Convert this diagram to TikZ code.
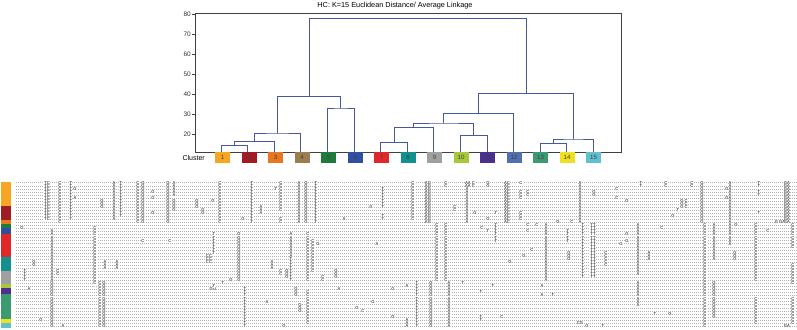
\documentclass[tikz,border=0pt]{standalone}
\usepackage{fontspec}
\setmainfont{Liberation Sans}
\definecolor{dendblue}{RGB}{70,88,158}
\definecolor{c1}{RGB}{246,166,35}
\definecolor{c2}{RGB}{160,28,34}
\definecolor{c3}{RGB}{232,119,34}
\definecolor{c4}{RGB}{156,126,78}
\definecolor{c5}{RGB}{30,123,60}
\definecolor{c6}{RGB}{47,79,160}
\definecolor{c7}{RGB}{224,40,42}
\definecolor{c8}{RGB}{19,144,144}
\definecolor{c9}{RGB}{160,160,160}
\definecolor{c10}{RGB}{168,200,60}
\definecolor{c11}{RGB}{75,48,144}
\definecolor{c12}{RGB}{80,112,176}
\definecolor{c13}{RGB}{58,154,112}
\definecolor{c14}{RGB}{240,224,32}
\definecolor{c15}{RGB}{96,192,208}
\newcommand\alnc[4]{\foreach \r in {#2,...,#3}{\node[lt] (t#1r\r) at (#1,{182.7+3.05*\r}) {#4};}}
\begin{document}
\begin{tikzpicture}[x=1pt,y=-1pt,
  dend/.style={draw=dendblue, line width=0.8pt},
  axisline/.style={draw=black!75, line width=0.8pt},
  clbox/.style={minimum width=15pt, minimum height=11pt, inner sep=0pt, font=\fontsize{6.2}{6.2}\selectfont, text=black!75},
  ticklbl/.style={font=\fontsize{6.5}{6.5}\selectfont, text=black!80, inner sep=1pt, anchor=east},
  lt/.style={inner sep=0.2pt, fill=white, font=\fontsize{4.2}{4.2}\selectfont, text=black},
  rowdots/.style={draw=gray!60, line width=0.5pt, dash pattern=on 0.5pt off 1.5pt}]
\useasboundingbox (0,0) rectangle (797,329);

% title
\node[font=\fontsize{7.3}{7.3}\selectfont] (title) at (395,5.5) {HC: K=15 Euclidean Distance/ Average Linkage};

% axis frame and ticks
\draw[axisline] (195,13) rectangle (621,152);
\foreach \v in {20,30,...,80}{
  \draw[axisline] (192,{174-2*\v}) -- (195,{174-2*\v});
  \node[ticklbl] (tk\v) at (192,{174-2*\v}) {\v};
}

% leaves and internal nodes
\foreach \i in {1,...,15}{\coordinate (L\i) at ({221+(\i-1)*26.6},152);}
\coordinate (A) at (234.3,145.7);
\coordinate (B) at (254.25,141.7);
\coordinate (C) at (277.5,133);
\coordinate (D) at (340.7,108);
\coordinate (E) at (309.1,96.3);
\coordinate (F) at (393.9,142.3);
\coordinate (G) at (413.85,127.3);
\coordinate (H) at (473.7,135.7);
\coordinate (I) at (443.8,123);
\coordinate (J) at (478.7,113.3);
\coordinate (K) at (553.5,143.3);
\coordinate (Lm) at (573.45,139);
\coordinate (M) at (526.1,93.3);
\coordinate (T) at (417.6,18.3);

\draw[dend] (L1) |- (A) -| (L2);
\draw[dend] (A) |- (B) -| (L3);
\draw[dend] (B) |- (C) -| (L4);
\draw[dend] (L5) |- (D) -| (L6);
\draw[dend] (C) |- (E) -| (D);
\draw[dend] (L7) |- (F) -| (L8);
\draw[dend] (F) |- (G) -| (L9);
\draw[dend] (L10) |- (H) -| (L11);
\draw[dend] (G) |- (I) -| (H);
\draw[dend] (I) |- (J) -| (L12);
\draw[dend] (L13) |- (K) -| (L14);
\draw[dend] (K) |- (Lm) -| (L15);
\draw[dend] (J) |- (M) -| (Lm);
\draw[dend] (E) |- (T) -| (M);

% cluster boxes
\node[anchor=east, font=\fontsize{7}{7}\selectfont, inner sep=0pt] (clab) at (205,157.5) {Cluster};
\foreach \i in {1,...,15}{
  \node[clbox, fill=c\i] (box\i) at ({222.5+(\i-1)*26.5},157.5) {\i};
}

% colour bar
\fill[c1] (1,181.5) rectangle (11,206);
\fill[c2] (1,206) rectangle (11,219.5);
\fill[c3] (1,219.5) rectangle (11,224);
\fill[c5] (1,224) rectangle (11,228);
\fill[c6] (1,228) rectangle (11,234);
\fill[c7] (1,234) rectangle (11,256.5);
\fill[c8] (1,256.5) rectangle (11,270.5);
\fill[c9] (1,270.5) rectangle (11,283.5);
\fill[c10] (1,283.5) rectangle (11,287.5);
\fill[c11] (1,287.5) rectangle (11,293.5);
\fill[c13] (1,293.5) rectangle (11,318.5);
\fill[c14] (1,318.5) rectangle (11,322.5);
\fill[c15] (1,322.5) rectangle (11,328);

% alignment rows
\foreach \r in {0,...,47}{\draw[rowdots] (16,{182.7+3.05*\r}) -- (797,{182.7+3.05*\r});}

% group A
\alnc{47}{0}{12}{TC}
\alnc{60}{0}{13}{C}
\alnc{71}{0}{12}{T}
\alnc{75}{2}{2}{G}
\alnc{75}{5}{5}{A}
\alnc{102}{6}{8}{G}
\alnc{114}{0}{12}{A}
\alnc{121}{0}{11}{T}
\alnc{138}{0}{13}{C}
\alnc{143}{0}{13}{G}
\alnc{153}{3}{3}{G}
\alnc{153}{5}{5}{G}
\alnc{153}{10}{10}{G}
\alnc{168}{0}{13}{G}
\alnc{174}{0}{4}{A}
\alnc{174}{6}{9}{G}
\alnc{197}{6}{8}{G}
\alnc{220}{0}{13}{C}
\alnc{213}{6}{6}{G}
\alnc{203}{9}{10}{G}
\alnc{243}{12}{12}{G}
\alnc{252}{0}{13}{T}
\alnc{261}{8}{10}{A}
\alnc{276}{2}{2}{T}
\alnc{281}{0}{9}{C}
\alnc{281}{12}{13}{C}
\alnc{299}{0}{13}{A}
\alnc{306}{0}{13}{G}
\alnc{316}{0}{13}{T}
\alnc{344}{12}{12}{A}
\alnc{371}{8}{8}{G}
\alnc{383}{2}{8}{T}
\alnc{383}{11}{12}{T}
\alnc{413}{0}{12}{C}
\alnc{428}{0}{13}{AG}
\alnc{446}{0}{1}{C}
\alnc{455}{8}{9}{C}
\alnc{467}{2}{13}{A}
\alnc{470}{0}{1}{AA C}
\alnc{475}{10}{10}{G}
\alnc{488}{0}{1}{G}
\alnc{488}{12}{12}{G}
\alnc{496}{10}{10}{T}
\alnc{507}{0}{13}{AC}
\alnc{521}{0}{0}{C}
\alnc{521}{3}{5}{C}
\alnc{521}{10}{12}{C}
\alnc{528}{3}{4}{C}
\alnc{580}{0}{13}{A}
\alnc{594}{3}{4}{G}
\alnc{617}{2}{2}{C}
\alnc{617}{5}{5}{C}
\alnc{627}{6}{6}{G}
\alnc{641}{0}{1}{T}
\alnc{666}{0}{1}{C}
\alnc{673}{11}{11}{G}
\alnc{678}{9}{9}{T}
\alnc{684}{6}{8}{G C}
\alnc{692}{0}{1}{C}
\alnc{702}{0}{13}{G}
\alnc{727}{2}{2}{G}
\alnc{727}{5}{5}{G}
\alnc{730}{0}{13}{A}
\alnc{759}{0}{1}{T}
\alnc{759}{3}{4}{T}
\alnc{759}{10}{10}{T}
\alnc{787}{0}{13}{GA}

% group B
\alnc{22}{15}{15}{G}
\alnc{25}{29}{32}{T}
\alnc{34}{26}{27}{G}
\alnc{52}{16}{32}{A}
\alnc{58}{29}{30}{C}
\alnc{95}{15}{33}{C}
\alnc{105}{26}{28}{A}
\alnc{117}{26}{28}{A}
\alnc{143}{19}{19}{C}
\alnc{170}{19}{19}{C}
\alnc{209}{24}{26}{CC}
\alnc{214}{17}{23}{T}
\alnc{239}{17}{32}{G}
\alnc{272}{26}{28}{A}
\alnc{281}{29}{30}{C}
\alnc{287}{29}{31}{G}
\alnc{291}{17}{24}{A}
\alnc{291}{25}{32}{T}
\alnc{308}{17}{32}{C}
\alnc{313}{19}{29}{C}
\alnc{318}{20}{20}{G}
\alnc{323}{31}{32}{C}
\alnc{336}{29}{31}{G}
\alnc{377}{20}{20}{A}
\alnc{437}{14}{32}{C}
\alnc{446}{14}{32}{C}
\alnc{482}{15}{15}{C}
\alnc{488}{16}{16}{T}
\alnc{496}{14}{19}{T}
\alnc{510}{26}{26}{G}
\alnc{524}{24}{24}{G}
\alnc{528}{14}{14}{C}
\alnc{528}{16}{16}{C}
\alnc{532}{22}{22}{C}
\alnc{537}{14}{14}{C}
\alnc{546}{14}{32}{A}
\alnc{558}{13}{13}{G}
\alnc{568}{16}{19}{T}
\alnc{569}{23}{25}{G}
\alnc{572}{13}{13}{C}
\alnc{583}{14}{31}{T}
\alnc{593}{14}{31}{TT}
\alnc{606}{23}{27}{C}
\alnc{621}{20}{20}{G}
\alnc{627}{17}{17}{G}
\alnc{627}{19}{19}{G}
\alnc{638}{14}{30}{A}
\alnc{649}{23}{25}{A}
\alnc{662}{15}{15}{C}
\alnc{705}{14}{32}{C}
\alnc{714}{14}{25}{A}
\alnc{730}{14}{20}{A}
\alnc{735}{23}{25}{G}
\alnc{736}{14}{14}{G}
\alnc{756}{14}{32}{C}
\alnc{768}{16}{16}{C}
\alnc{780}{13}{13}{G GA}
\alnc{793}{14}{21}{C}
\alnc{793}{27}{33}{C}

% group C
\alnc{29}{35}{35}{A}
\alnc{41}{45}{45}{G}
\alnc{52}{33}{47}{G}
\alnc{63}{47}{47}{A}
\alnc{100}{33}{47}{C}
\alnc{104}{33}{47}{G}
\alnc{213}{35}{35}{GG}
\alnc{214}{34}{34}{T}
\alnc{223}{33}{33}{T}
\alnc{231}{32}{32}{G}
\alnc{245}{35}{47}{T}
\alnc{267}{39}{39}{A}
\alnc{284}{47}{47}{G}
\alnc{296}{35}{37}{G}
\alnc{300}{40}{42}{G}
\alnc{308}{36}{46}{C}
\alnc{339}{35}{35}{A}
\alnc{357}{41}{41}{G}
\alnc{363}{42}{42}{C}
\alnc{373}{39}{39}{G}
\alnc{393}{35}{35}{G}
\alnc{393}{44}{44}{G}
\alnc{407}{34}{34}{A}
\alnc{407}{45}{47}{A}
\alnc{417}{33}{47}{T}
\alnc{431}{33}{47}{G}
\alnc{449}{33}{47}{A}
\alnc{463}{33}{33}{T}
\alnc{481}{36}{36}{T}
\alnc{481}{44}{45}{T}
\alnc{493}{34}{34}{T}
\alnc{502}{44}{44}{C}
\alnc{542}{34}{34}{A}
\alnc{542}{37}{37}{A}
\alnc{553}{37}{37}{T}
\alnc{580}{46}{46}{CG}
\alnc{587}{47}{47}{G}
\alnc{603}{47}{47}{T}
\alnc{638}{33}{40}{A}
\alnc{655}{43}{43}{T}
\alnc{670}{43}{43}{G}
\alnc{705}{33}{47}{C}
\alnc{714}{33}{44}{G}
\alnc{756}{38}{46}{C}
\alnc{787}{47}{47}{GA}
\alnc{793}{38}{46}{C}
\end{tikzpicture}
\end{document}
